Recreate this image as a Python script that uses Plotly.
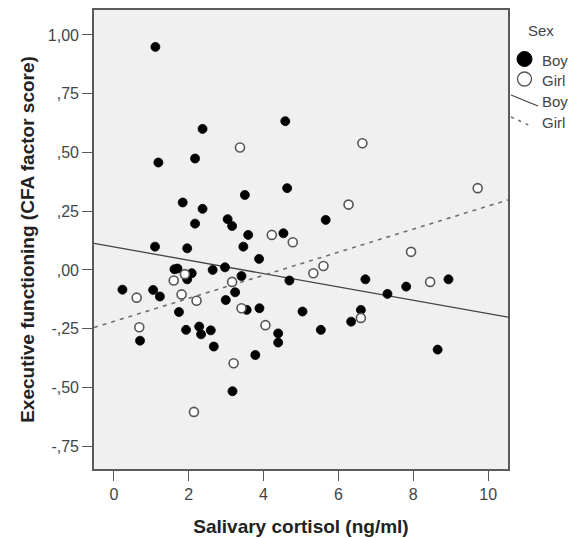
import plotly.graph_objects as go
import numpy as np

# ---- data ----
boy_cortisol = [1.11, 2.37, 4.58, 1.19, 2.17, 4.63, 3.50, 1.84, 2.37, 2.17,
                3.04, 3.16, 3.59, 4.53, 5.66, 1.10, 1.96, 3.46, 3.88, 1.62,
                1.70, 2.08, 1.96, 2.64, 2.97, 3.41, 4.69, 0.23, 1.05, 1.23,
                3.24, 2.99, 1.74, 3.55, 3.89, 5.04, 0.70, 1.93, 2.28, 2.33,
                2.59, 2.67, 4.39, 4.39, 3.78, 3.17, 6.72, 7.31, 7.81, 8.94,
                5.53, 6.60, 6.34, 8.65]
boy_ef = [0.949, 0.600, 0.633, 0.457, 0.474, 0.348, 0.319, 0.287, 0.260, 0.197,
          0.216, 0.187, 0.149, 0.156, 0.213, 0.099, 0.092, 0.099, 0.047, 0.003,
          0.006, -0.014, -0.040, 0.000, 0.011, -0.026, -0.045, -0.084, -0.085, -0.113,
          -0.095, -0.128, -0.179, -0.170, -0.163, -0.177, -0.301, -0.255, -0.241, -0.274,
          -0.257, -0.326, -0.270, -0.309, -0.362, -0.516, -0.040, -0.102, -0.071, -0.040,
          -0.255, -0.170, -0.220, -0.339]

girl_cortisol = [3.37, 4.22, 6.64, 9.72, 6.27, 4.78, 1.90, 1.60, 3.16, 0.61,
                 1.81, 2.21, 3.41, 0.68, 4.05, 3.20, 2.14, 7.94, 5.33, 5.60,
                 8.45, 6.60]
girl_ef = [0.521, 0.149, 0.539, 0.348, 0.278, 0.118, -0.018, -0.045, -0.051, -0.118,
           -0.104, -0.131, -0.163, -0.244, -0.235, -0.397, -0.604, 0.077, -0.014, 0.017,
           -0.051, -0.204]

# fit lines (intercept, slope)
fit_groups = ["Boy", "Girl"]
fit_intercepts = [0.098, -0.219]
fit_slopes = [-0.0284, 0.0491]

x_range = [-0.53, 10.53]
y_range = [-0.847, 1.106]
x_ticks = [0, 2, 4, 6, 8, 10]
y_ticks = [-0.75, -0.50, -0.25, 0.00, 0.25, 0.50, 0.75, 1.00]
y_ticklabels = ["-,75", "-,50", "-,25", ",00", ",25", ",50", ",75", "1,00"]

FONT = "Arial, Liberation Sans, sans-serif"

fig = go.Figure()

line_styles = {"Boy": dict(color="#444444", width=1.3, dash="solid"),
               "Girl": dict(color="#707070", width=1.6, dash="4px,5px")}
for g, b0, b1 in zip(fit_groups, fit_intercepts, fit_slopes):
    xs = np.array(x_range)
    fig.add_trace(go.Scatter(x=xs, y=b0 + b1 * xs, mode="lines",
                             line=line_styles[g], hoverinfo="skip", showlegend=False))

fig.add_trace(go.Scatter(x=boy_cortisol, y=boy_ef, mode="markers", name="Boy",
                         marker=dict(size=9, color="black",
                                     line=dict(color="black", width=0.8)),
                         showlegend=False))
fig.add_trace(go.Scatter(x=girl_cortisol, y=girl_ef, mode="markers", name="Girl",
                         marker=dict(size=9, color="white",
                                     line=dict(color="#555555", width=1.6)),
                         showlegend=False))

# page body adds an 8px offset; plot area targeted at screen px 94..508 x 10..469
OFF = 8
L, T, W, H = 94, 10, 414, 459
def px(x):
    return (x - L) / W
def py(y):
    return (T + H - y) / H

annos = []
legend_font = dict(family=FONT, size=15, color="#444444")
annos.append(dict(x=px(541), y=py(30), xref="paper", yref="paper", text="Sex",
                  showarrow=False, xanchor="center", yanchor="middle", font=legend_font))
for label, yy in [("Boy", 60), ("Girl", 80), ("Boy", 101), ("Girl", 123)]:
    annos.append(dict(x=px(540), y=py(yy), xref="paper", yref="paper", text=label,
                      showarrow=False, xanchor="left", yanchor="middle", font=legend_font))

shapes = [
    dict(type="circle", xref="paper", yref="paper", xsizemode="pixel", ysizemode="pixel",
         xanchor=px(524.5), yanchor=py(59), x0=-7.5, x1=7.5, y0=-7.5, y1=7.5,
         fillcolor="black", line=dict(color="black", width=1)),
    dict(type="circle", xref="paper", yref="paper", xsizemode="pixel", ysizemode="pixel",
         xanchor=px(524.5), yanchor=py(79), x0=-7, x1=7, y0=-7, y1=7,
         fillcolor="white", line=dict(color="#555555", width=1.3)),
    dict(type="line", xref="paper", yref="paper", x0=px(511), y0=py(95), x1=px(538), y1=py(106),
         line=dict(color="#444444", width=1.3)),
    dict(type="line", xref="paper", yref="paper", x0=px(511), y0=py(117), x1=px(533), y1=py(127),
         line=dict(color="#707070", width=1.6, dash="3px,5px")),
]

axis_common = dict(showgrid=False, zeroline=False, showline=True, mirror=True,
                   linecolor="#5a5a5a", linewidth=1.6, ticks="outside", ticklen=10,
                   tickwidth=1.4, tickcolor="#5a5a5a",
                   tickfont=dict(family=FONT, size=16, color="#444444"))

fig.update_layout(
    width=576, height=538,
    margin=dict(l=L - OFF, r=576 - L - W + OFF, t=T - OFF, b=538 - T - H + OFF, autoexpand=False),
    paper_bgcolor="white", plot_bgcolor="#f0f0f0",
    xaxis=dict(range=x_range, tickvals=x_ticks, ticktext=[str(v) for v in x_ticks],
               title=dict(text="<b>Salivary cortisol (ng/ml)</b>", standoff=18,
                          font=dict(family=FONT, size=19, color="#222222")),
               **axis_common),
    yaxis=dict(range=y_range, tickvals=y_ticks, ticktext=y_ticklabels,
               title=dict(text="<b>Executive functioning (CFA factor score)</b>", standoff=8,
                          font=dict(family=FONT, size=19, color="#222222")),
               **axis_common),
    annotations=annos, shapes=shapes, showlegend=False,
)

fig.write_html("out.html")
